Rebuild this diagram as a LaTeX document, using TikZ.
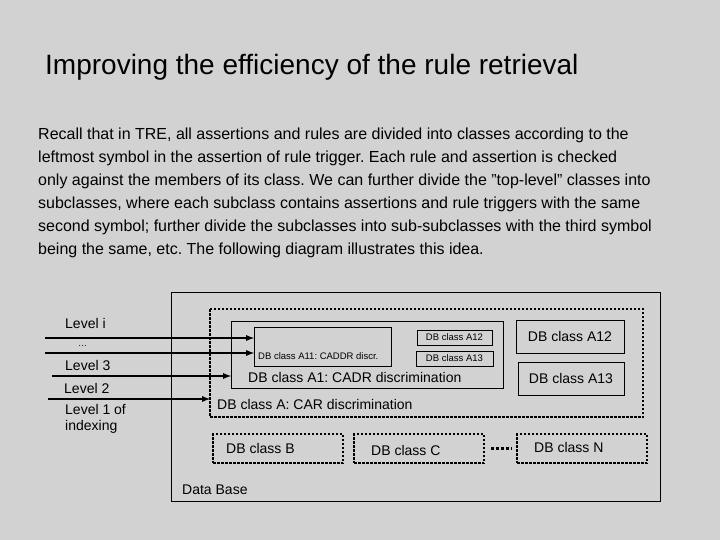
\documentclass[tikz,border=0pt]{standalone}
\usepackage{fontspec}
\setmainfont{Liberation Sans}
\usetikzlibrary{calc}
\frenchspacing
\begin{document}
\begin{tikzpicture}[x=1pt,y=-1pt,
  box/.style={draw=black,line width=1pt},
  dbox/.style={draw=black,line width=1.5pt,dash pattern=on 2.5pt off 1.5pt},
  arr/.style={line width=1.7pt,-latex},
  lbl/.style={anchor=west,inner sep=0pt,font=\fontsize{14}{16}\selectfont},
  body/.style={anchor=west,inner sep=0pt,font=\fontsize{16}{18}\selectfont}]
\fill[gray!35] (0,0) rectangle (720,540);
\useasboundingbox (0,0) rectangle (720,540);
\node[anchor=west,inner sep=0pt,font=\fontsize{28}{32}\selectfont] (title) at (45,67) {Improving the efficiency of the rule retrieval};
\node[body] (l1) at (38,135) {Recall that in TRE, all assertions and rules are divided into classes according to the};
\node[body] (l2) at (38,158) {leftmost symbol in the assertion of rule trigger. Each rule and assertion is checked};
\node[body] (l3) at (38,181) {only against the members of its class. We can further divide the \symbol{34}top-level\symbol{34} classes into};
\node[body] (l4) at (38,204) {subclasses, where each subclass contains assertions and rule triggers with the same};
\node[body] (l5) at (38,227) {second symbol; further divide the subclasses into sub-subclasses with the third symbol};
\node[body] (l6) at (38,250) {being the same, etc. The following diagram illustrates this idea.};
% boxes
\draw[box] (171,292) rectangle (660,501);
\draw[dbox] (210,309) rectangle (643,417);
\coordinate (A) at (210,399);
\draw[box] (231,321) rectangle (503,388);
\coordinate (A1) at (231,376);
\draw[box] (254,327) rectangle (391,366);
\coordinate (A11a) at (254,338);
\coordinate (A11b) at (254,353);
\node[box,minimum width=75,minimum height=15,inner sep=0pt,font=\fontsize{9.5}{10}\selectfont] (a12s) at (454.5,337.5) {DB class A12};
\node[box,minimum width=77,minimum height=15,inner sep=0pt,font=\fontsize{9.5}{10}\selectfont] (a13s) at (454.5,358.5) {DB class A13};
\node[box,minimum width=108,minimum height=33,inner sep=0pt,font=\fontsize{14}{16}\selectfont] (a12b) at (570,336.5) {DB class A12};
\node[box,minimum width=106,minimum height=33,inner sep=0pt,font=\fontsize{14}{16}\selectfont] (a13b) at (571,378.5) {DB class A13};
\node[dbox,minimum width=130,minimum height=29,inner sep=0pt] (B) at (278,448.5) {};
\node[dbox,minimum width=130,minimum height=29,inner sep=0pt] (C) at (419,448.5) {};
\node[dbox,minimum width=130,minimum height=29,inner sep=0pt] (N) at (582,448.5) {};
\node[lbl] (tB) at (226,448) {DB class B};
\node[lbl] (tC) at (371,450) {DB class C};
\node[lbl] (tN) at (534,447) {DB class N};
\draw[line width=2.5pt,dash pattern=on 3pt off 2pt] ($(C.east)+(6,0)$) -- ($(N.west)+(-5,0)$);
% texts inside
\node[anchor=west,inner sep=0pt,font=\fontsize{9.5}{10}\selectfont] (t11) at (258,356) {DB class A11: CADDR discr.};
\node[lbl] (t1) at (248,377) {DB class A1: CADR discrimination};
\node[lbl] (t0) at (217,404) {DB class A: CAR discrimination};
\node[lbl] (tdb) at (182,490) {Data Base};
% levels
\node[lbl] (li) at (65,323) {Level i};
\node[lbl] (ld) at (78,346) {\fontsize{9}{10}\selectfont\dots};
\node[lbl] (l3n) at (65,365) {Level 3};
\node[lbl] (l2n) at (64,388) {Level 2};
\node[lbl,align=left] (l1n) at (65,419) {Level 1 of\\indexing};
\coordinate (s1) at (45,338);
\coordinate (s2) at (45,353);
\coordinate (s3) at (52,376);
\coordinate (s4) at (48,399);
\draw[arr] (s1) -- (A11a);
\draw[arr] (s2) -- (A11b);
\draw[arr] (s3) -- (A1);
\draw[arr] (s4) -- (A);
\end{tikzpicture}
\end{document}
